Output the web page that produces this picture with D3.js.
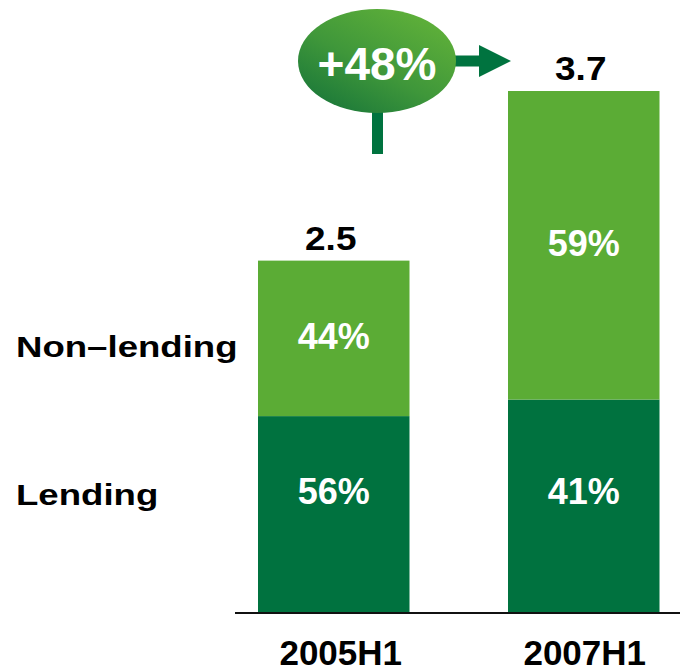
<!DOCTYPE html>
<html>
<head>
<meta charset="utf-8">
<script src="https://cdn.jsdelivr.net/npm/d3@7"></script>
<style>
  html, body { margin: 0; padding: 0; background: #fff; }
  svg { display: block; font-family: "Liberation Sans", Arial, sans-serif; font-weight: bold; }
</style>
</head>
<body>
<svg id="chart" width="680" height="669"></svg>
<script>
// Income mix, first half of each year
const periods = ["2005H1", "2007H1"];
const totals = [2.5, 3.7];
const lendingShare = [56, 41];      // % of total
const nonLendingShare = [44, 59];   // % of total
const seriesNames = ["Lending", "Non\u2013lending"];
const growthLabel = "+48%";

const colors = { lending: "#00723f", nonLending: "#5bac35", arrow: "#00733f" };

const svg = d3.select("#chart");
const baseY = 614;

const x = d3.scaleBand().domain(periods).range([258, 659.5]).paddingInner(0.394).paddingOuter(0);
const y = d3.scaleLinear().domain([0, 3.7]).range([baseY, 91]);

// stacked segments
const rows = periods.map((p, i) => ({
  period: p,
  total: totals[i],
  lending: totals[i] * lendingShare[i] / 100,
  nonLending: totals[i] * nonLendingShare[i] / 100,
  lPct: lendingShare[i],
  nPct: nonLendingShare[i]
}));
const stack = d3.stack().keys(["lending", "nonLending"])(rows);

svg.append("g").selectAll("g").data(stack).join("g")
  .attr("fill", d => colors[d.key])
  .selectAll("rect").data(d => d).join("rect")
  .attr("x", d => x(d.data.period))
  .attr("width", x.bandwidth())
  .attr("y", d => y(d[1]))
  .attr("height", d => y(d[0]) - y(d[1]));

// baseline
svg.append("line")
  .attr("x1", 235).attr("x2", 680)
  .attr("y1", baseY - 1).attr("y2", baseY - 1)
  .attr("stroke", "#111").attr("stroke-width", 2);

const cxOf = p => x(p) + x.bandwidth() / 2;

// category labels
svg.append("g").selectAll("text").data(periods).join("text")
  .attr("x", (d, i) => cxOf(d) + (i === 0 ? 7 : 1))
  .attr("y", 665)
  .attr("text-anchor", "middle")
  .attr("font-size", 35)
  .attr("fill", "#000")
  .text(d => d);

// totals above the bars
svg.append("g").selectAll("text").data(rows).join("text")
  .attr("transform", d => `translate(${cxOf(d.period) - 3},${y(d.total) - 11}) scale(1.12,1)`)
  .attr("text-anchor", "middle")
  .attr("font-size", 33)
  .attr("fill", "#000")
  .text(d => d.total.toFixed(1));

// share labels inside segments
const lendingRowY = 504;
svg.append("g").selectAll("text").data(rows).join("text")
  .attr("x", d => cxOf(d.period))
  .attr("y", d => (y(d.total) + y(d.lending)) / 2 + 11)
  .attr("text-anchor", "middle").attr("font-size", 36).attr("fill", "#fff")
  .text(d => d.nPct + "%");
svg.append("g").selectAll("text").data(rows).join("text")
  .attr("x", d => cxOf(d.period))
  .attr("y", lendingRowY)
  .attr("text-anchor", "middle").attr("font-size", 36).attr("fill", "#fff")
  .text(d => d.lPct + "%");

// series labels on the left
const sideLabels = [
  { text: seriesNames[1], y: 357 },
  { text: seriesNames[0], y: 505 }
];
svg.append("g").selectAll("text").data(sideLabels).join("text")
  .attr("transform", d => `translate(16,${d.y}) scale(1.22,1)`)
  .attr("font-size", 30)
  .attr("fill", "#000")
  .text(d => d.text);

// growth callout
const defs = svg.append("defs");
const grad = defs.append("linearGradient").attr("id", "bubble")
  .attr("x1", "0.1").attr("y1", "1").attr("x2", "0.9").attr("y2", "0");
grad.append("stop").attr("offset", "0").attr("stop-color", "#167439");
grad.append("stop").attr("offset", "0.45").attr("stop-color", "#3f973a");
grad.append("stop").attr("offset", "1").attr("stop-color", "#64b439");

const cx = 377, cy = 61;
// stem
svg.append("rect").attr("x", 372).attr("y", cy).attr("width", 11).attr("height", 154 - cy)
  .attr("fill", colors.arrow);
// arrow to the later bar
svg.append("rect").attr("x", cx).attr("y", cy - 5.5).attr("width", 103).attr("height", 11)
  .attr("fill", colors.arrow);
svg.append("path")
  .attr("d", d3.line()([[479, cy - 16], [511, cy], [479, cy + 16]]) + "Z")
  .attr("fill", colors.arrow);
svg.append("ellipse").attr("cx", cx).attr("cy", cy).attr("rx", 79).attr("ry", 52)
  .attr("fill", "url(#bubble)");
svg.append("text")
  .attr("x", cx).attr("y", 80)
  .attr("text-anchor", "middle")
  .attr("font-size", 46)
  .attr("fill", "#fff")
  .text(growthLabel);
</script>
</body>
</html>
